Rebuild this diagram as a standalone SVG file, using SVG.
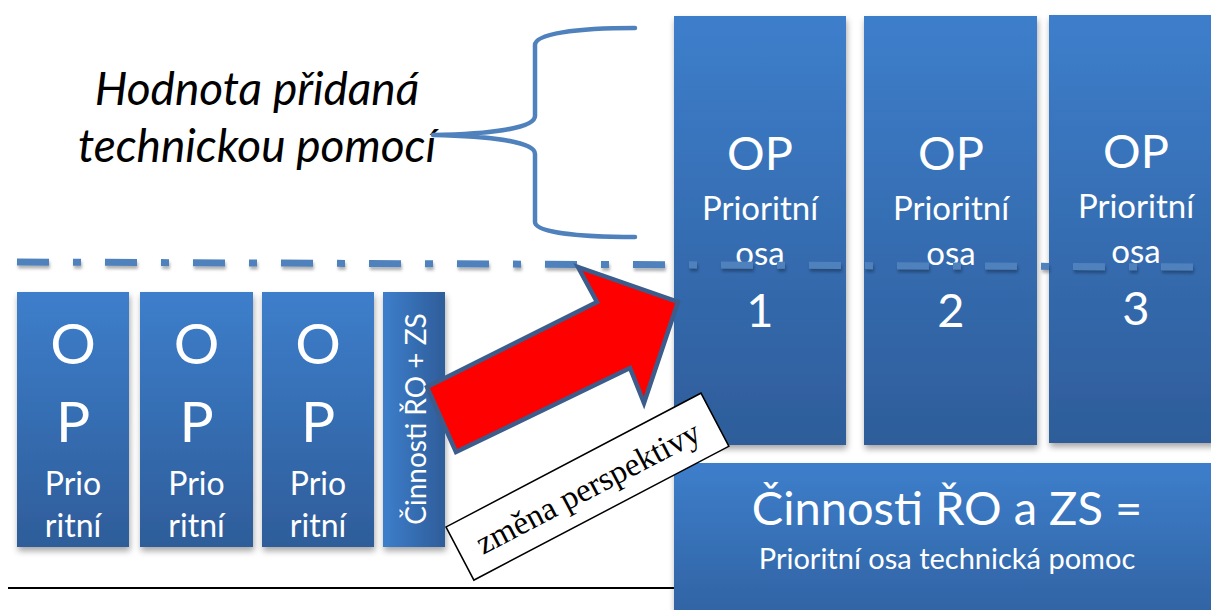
<svg xmlns="http://www.w3.org/2000/svg" width="1211" height="610" viewBox="0 0 1211 610">
  <style>
    .w { fill: #ffffff; font-family: Lato, "Noto Sans", sans-serif; text-anchor: middle; }
    .box { fill: url(#gv); filter: url(#sh); }
    .it { fill: #000; font-family: Lato, "Noto Sans", sans-serif; font-style: italic; font-size: 46px; text-anchor: middle; }
  </style>
  <defs>
    <linearGradient id="gv" x1="0" y1="0" x2="0" y2="1">
      <stop offset="0" stop-color="#3d7ecb"/>
      <stop offset="1" stop-color="#2e5d9a"/>
    </linearGradient>
    <linearGradient id="gh" x1="0" y1="0" x2="1" y2="0">
      <stop offset="0" stop-color="#3d7ecb"/>
      <stop offset="1" stop-color="#2e5d9a"/>
    </linearGradient>
    <filter id="sh" x="-20%" y="-10%" width="140%" height="130%">
      <feDropShadow dx="1" dy="4" stdDeviation="3" flood-color="#000" flood-opacity="0.35"/>
    </filter>
    <filter id="lsh" x="-5%" y="-100%" width="110%" height="400%">
      <feDropShadow dx="1" dy="3" stdDeviation="1.5" flood-color="#000" flood-opacity="0.3"/>
    </filter>
  </defs>
  <rect width="1211" height="610" fill="#ffffff"/>

  <!-- italic label -->
  <g id="label-hodnota">
    <text class="it" x="257" y="105">Hodnota přidaná</text>
    <text class="it" x="257" y="162">technickou pomocí</text>
  </g>

  <!-- brace -->
  <g id="brace">
    <path d="M635,28 C575,28 535,34 535,45 L535,116 C535,128 490,134 433,135 C490,136 535,142 535,154 L535,222 C535,232 575,237 635,237" fill="none" stroke="#4f81bd" stroke-width="4.5" stroke-linecap="round" stroke-linejoin="round"/>
  </g>

  <!-- baseline -->
  <g id="bottom-line">
    <line x1="8" y1="588" x2="674" y2="588" stroke="#000" stroke-width="2"/>
  </g>

  <!-- small OP boxes -->
  <g id="op-small-1">
    <rect class="box" x="17" y="292" width="112" height="255"/>
    <text class="w" x="73" y="364" font-size="57">O</text>
    <text class="w" x="73" y="442" font-size="57">P</text>
    <text class="w" x="73" y="495" font-size="32">Prio</text>
    <text class="w" x="73" y="537" font-size="32">ritní</text>
  </g>
  <g id="op-small-2">
    <rect class="box" x="140" y="292" width="113" height="255"/>
    <text class="w" x="196.5" y="364" font-size="57">O</text>
    <text class="w" x="196.5" y="442" font-size="57">P</text>
    <text class="w" x="196.5" y="495" font-size="32">Prio</text>
    <text class="w" x="196.5" y="537" font-size="32">ritní</text>
  </g>
  <g id="op-small-3">
    <rect class="box" x="262" y="292" width="112" height="255"/>
    <text class="w" x="318" y="364" font-size="57">O</text>
    <text class="w" x="318" y="442" font-size="57">P</text>
    <text class="w" x="318" y="495" font-size="32">Prio</text>
    <text class="w" x="318" y="537" font-size="32">ritní</text>
  </g>
  <g id="ro-zs-small">
    <rect x="383" y="292" width="62" height="255" fill="url(#gh)" filter="url(#sh)"/>
    <text class="w" transform="translate(426,419) rotate(-90)" x="0" y="0" font-size="28">Činnosti ŘO + ZS</text>
  </g>

  <!-- big OP boxes -->
  <g id="op-big-1">
    <rect class="box" x="674" y="16" width="172" height="429"/>
    <text class="w" x="760" y="170" font-size="47">OP</text>
    <text class="w" x="760" y="220" font-size="33">Prioritní</text>
    <text class="w" x="760" y="265" font-size="33">osa</text>
    <text class="w" x="760" y="327" font-size="47">1</text>
  </g>
  <g id="op-big-2">
    <rect class="box" x="864" y="16" width="173" height="429"/>
    <text class="w" x="951" y="170" font-size="47">OP</text>
    <text class="w" x="951" y="220" font-size="33">Prioritní</text>
    <text class="w" x="951" y="265" font-size="33">osa</text>
    <text class="w" x="951" y="327" font-size="47">2</text>
  </g>
  <g id="op-big-3">
    <rect class="box" x="1049" y="15" width="190" height="428"/>
    <text class="w" x="1136" y="168" font-size="47">OP</text>
    <text class="w" x="1136" y="218" font-size="33">Prioritní</text>
    <text class="w" x="1136" y="263" font-size="33">osa</text>
    <text class="w" x="1136" y="325" font-size="47">3</text>
  </g>
  <g id="ta-box">
    <rect class="box" x="674" y="463" width="560" height="190"/>
    <text class="w" x="947" y="525" font-size="47">Činnosti ŘO a ZS =</text>
    <text class="w" x="947" y="569" font-size="29">Prioritní osa technická pomoc</text>
  </g>

  <!-- connectors -->
  <g id="connectors">
    <path d="M17,262 L1193,267" fill="none" stroke="#4f81bd" stroke-width="7" stroke-dasharray="32 24 8 24" filter="url(#lsh)"/>
    <polygon points="427,387 456,452 630,368 644,403 678,302 578,267 597,302" fill="#ff0000" stroke="#3c5d8c" stroke-width="4.5" stroke-linejoin="miter"/>
  </g>

  <!-- rotated caption -->
  <g id="label-zmena" transform="translate(446,527) rotate(-27.7)">
    <rect x="0" y="0" width="288" height="60" fill="#ffffff" stroke="#000" stroke-width="1.5"/>
    <text x="144" y="42" text-anchor="middle" font-family="'Liberation Serif', serif" font-size="33" fill="#000">změna perspektivy</text>
  </g>
</svg>
